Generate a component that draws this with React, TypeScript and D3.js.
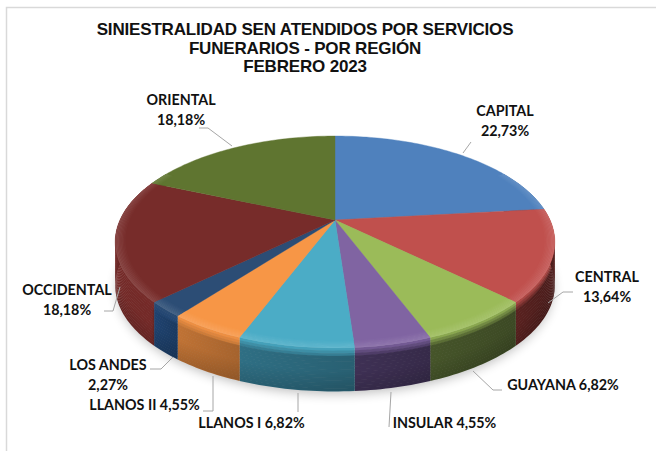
import React from "react";
import * as d3 from "d3";

const regions = ["CAPITAL", "CENTRAL", "GUAYANA", "INSULAR", "LLANOS I", "LLANOS II", "LOS ANDES", "OCCIDENTAL", "ORIENTAL"];
const shares = [22.73, 13.64, 6.82, 4.55, 6.82, 4.55, 2.27, 18.18, 18.18];
const shareLabels = ["22,73%", "13,64%", "6,82%", "4,55%", "6,82%", "4,55%", "2,27%", "18,18%", "18,18%"];
const topColors = ["#4F81BD", "#C0504D", "#9BBB59", "#8064A2", "#4BACC6", "#F79646", "#2C4D75", "#772C2A", "#5F7530"];
const sideColors = ["#2F4D71", "#5A2220", "#46552A", "#3F3155", "#2F6F84", "#C07335", "#1F4370", "#742A28", "#3C4A1E"];
const titleLines = ["SINIESTRALIDAD SEN ATENDIDOS POR SERVICIOS", "FUNERARIOS - POR REGIÓN", "FEBRERO 2023"];

// label anchor + leader polyline, same order as regions
const labelLayout = [
  { x: 505, ys: [116, 136], leader: [[471, 142], [463, 153]] },
  { x: 607, ys: [282, 302], leader: [[573, 292], [563, 292], [548, 303]] },
  { x: 563, ys: [390], leader: [[502, 390], [493, 390], [473, 371]] },
  { x: 444.5, ys: [428], leader: [[389, 427], [391, 392]] },
  { x: 251.5, ys: [428], leader: [[298, 412], [298, 393]] },
  { x: 144.5, ys: [410], leader: [[203, 411], [213, 411], [213, 376]] },
  { x: 108, ys: [370, 390], leader: [[150, 369], [161, 369], [173, 357]] },
  { x: 67, ys: [295, 315], leader: [[104, 311], [113, 311], [120, 287]] },
  { x: 181, ys: [105, 125], leader: [[199, 128], [208, 128], [232, 146]] },
];

const width = 656;
const height = 451;
const cx = 335;
const cy = 220;
const rx = 215;
const ry = 101.4;
const persp = 0.2075; // front of the disc sits closer to the viewer
const depth = 43;

const pie = d3.pie<number>().sort(null).value((d) => d)(shares);

const project = (a: number, radius = 1, drop = 0): [number, number] => {
  const u = Math.sin(a) * radius;
  const v = -Math.cos(a) * radius;
  const w = 1 - persp * v;
  return [cx + (rx * u) / w, cy + (ry * v) / w + drop];
};

const line = d3.line();
const sampleAngles = (a0: number, a1: number) => {
  const n = Math.max(2, Math.ceil((a1 - a0) / 0.02));
  return d3.range(n + 1).map((i) => a0 + ((a1 - a0) * i) / n);
};

const wedgePath = (a0: number, a1: number) =>
  line([[cx, cy], ...sampleAngles(a0, a1).map((a) => project(a))])! + "Z";

const bandPath = (a0: number, a1: number, r0: number, d0: number, r1: number, d1: number) => {
  const s = sampleAngles(a0, a1);
  return line([...s.map((a) => project(a, r0, d0)), ...s.slice().reverse().map((a) => project(a, r1, d1))])! + "Z";
};

// strips down the wall: starts from the face colour, settles on the side colour
const wallSteps = d3.range(0, 16);
const wallBlend = d3.scaleLinear<number>().domain([0, 0.18, 1]).range([0.8, 0, 0]).clamp(true);
const wallDark = d3.scaleLinear<number>().domain([0.5, 1]).range([0, 0.14]).clamp(true);
// bevel on the disc just inside the rim
const bevelSteps = d3.range(0, 8);
const bevelStart = 0.955;
const visibleFrom = (60 * Math.PI) / 180;
const visibleTo = (300 * Math.PI) / 180;

const shadowOutline = () => line(sampleAngles(0, Math.PI * 2).map((a) => project(a, 0.99, depth + 4)))! + "Z";

export default function App() {
  return (
    <svg
      width={width}
      height={height}
      viewBox={`0 0 ${width} ${height}`}
      style={{ position: "absolute", left: 0, top: 0, background: "#fff" }}
    >
      <defs>
        <filter id="soft" x="-20%" y="-20%" width="140%" height="140%">
          <feGaussianBlur stdDeviation="6" />
        </filter>
        {pie.map((p, i) => {
          const a0 = Math.max(p.startAngle, visibleFrom);
          const a1 = Math.min(p.endAngle, visibleTo);
          const xs = [project(a0)[0], project(a1)[0]];
          return (
            <linearGradient key={i} id={`wall-${i}`} gradientUnits="userSpaceOnUse" x1={d3.min(xs)} x2={d3.max(xs)} y1={0} y2={0}>
              <stop offset="0" stopColor="#000" stopOpacity={0} />
              <stop offset="1" stopColor="#000" stopOpacity={0.14} />
            </linearGradient>
          );
        })}
      </defs>
      <path d="M6.5 451V7.5H656" fill="none" stroke="#D9D9D9" strokeWidth={1.5} />

      {titleLines.map((t, i) => (
        <text
          key={t}
          x={305}
          y={35 + i * 18.5}
          textAnchor="middle"
          fontFamily="'Liberation Sans', Arial, sans-serif"
          fontWeight="bold"
          fontSize={17}
          letterSpacing={-0.17}
          fill="#111"
        >
          {t}
        </text>
      ))}

      <path d={shadowOutline()} fill="#000" opacity={0.28} filter="url(#soft)" />

      {pie.map((p, i) => {
        const a0 = Math.max(p.startAngle, visibleFrom);
        const a1 = Math.min(p.endAngle, visibleTo);
        if (a1 <= a0) return null;
        const toTop = d3.interpolateRgb(sideColors[i], topColors[i]);
        const toBlack = d3.interpolateRgb(sideColors[i], "#000000");
        return (
          <g key={regions[i]}>
            {wallSteps.map((k) => {
              const t0 = k / wallSteps.length;
              const t1 = (k + 1) / wallSteps.length;
              const blend = wallBlend(t0);
              return (
                <path
                  key={k}
                  d={bandPath(a0, a1, 1, t0 * depth, 1, t1 * depth + 0.5)}
                  fill={blend > 0 ? toTop(blend) : toBlack(wallDark(t0))}
                />
              );
            })}
            <path d={bandPath(a0, a1, 1, depth * 0.18, 1, depth)} fill={`url(#wall-${i})`} />
          </g>
        );
      })}

      {pie.map((p, i) => (
        <path key={regions[i]} d={wedgePath(p.startAngle, p.endAngle)} fill={topColors[i]} stroke={topColors[i]} strokeWidth={0.4} />
      ))}

      {pie.map((p, i) => {
        const a0 = Math.max(p.startAngle, visibleFrom);
        const a1 = Math.min(p.endAngle, visibleTo);
        if (a1 <= a0) return null;
        const light = d3.interpolateRgb(topColors[i], "#ffffff");
        return (
          <g key={regions[i]}>
            {bevelSteps.map((k) => {
              const t0 = k / bevelSteps.length;
              const t1 = (k + 1) / bevelSteps.length;
              const span = 1 - bevelStart;
              return (
                <path
                  key={k}
                  d={bandPath(a0, a1, bevelStart + span * t0, 0, bevelStart + span * t1, 0)}
                  fill={light(0.14 * t1)}
                />
              );
            })}
          </g>
        );
      })}

      {labelLayout.map((l, i) => (
        <g key={regions[i]}>
          <path d={line(l.leader as [number, number][])!} fill="none" stroke="#A6A6A6" strokeWidth={1} />
          <text
            textAnchor="middle"
            fontFamily="Lato, 'Open Sans', sans-serif"
            fontWeight="bold"
            fontSize={14.3}
            fill="#111"
          >
            {l.ys.length === 2 ? (
              <>
                <tspan x={l.x} y={l.ys[0]}>{regions[i]}</tspan>
                <tspan x={l.x} y={l.ys[1]}>{shareLabels[i]}</tspan>
              </>
            ) : (
              <tspan x={l.x} y={l.ys[0]}>{`${regions[i]} ${shareLabels[i]}`}</tspan>
            )}
          </text>
        </g>
      ))}
    </svg>
  );
}
